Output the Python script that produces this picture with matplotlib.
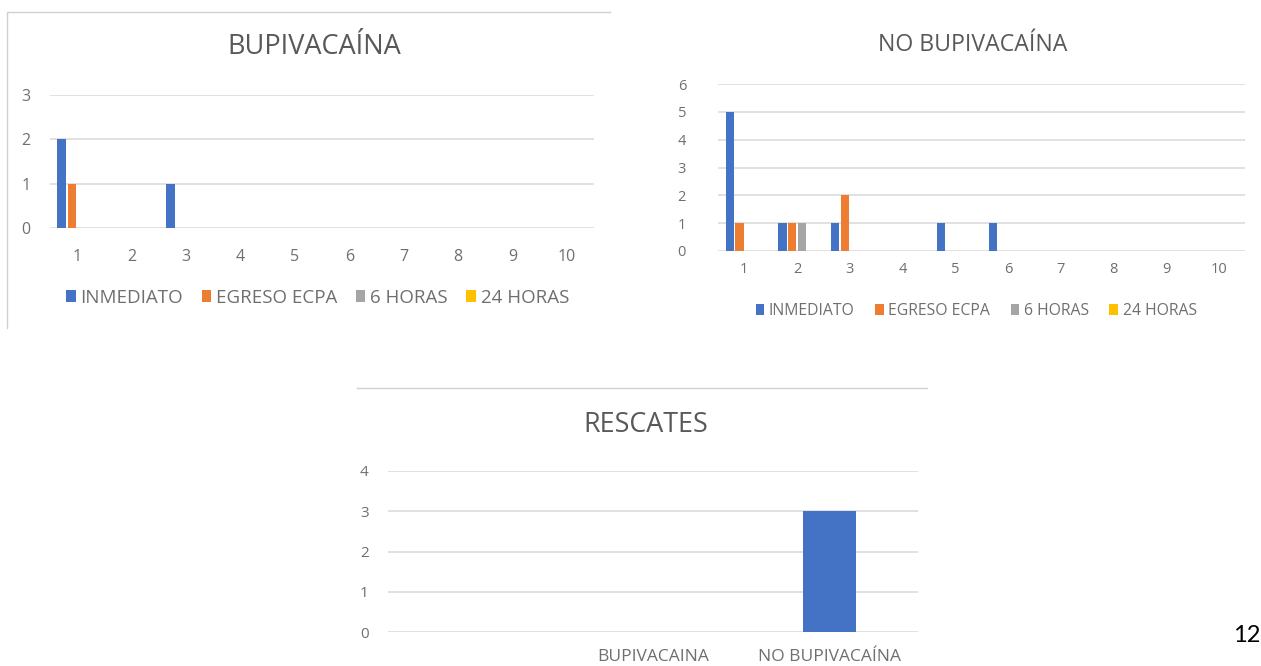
import numpy as np
import matplotlib.pyplot as plt
from matplotlib.lines import Line2D

# ---- data ----
categories = [1, 2, 3, 4, 5, 6, 7, 8, 9, 10]
series_names = ["INMEDIATO", "EGRESO ECPA", "6 HORAS", "24 HORAS"]

bupi_inmediato = [2, 0, 1, 0, 0, 0, 0, 0, 0, 0]
bupi_egreso = [1, 0, 0, 0, 0, 0, 0, 0, 0, 0]
bupi_6h = [0, 0, 0, 0, 0, 0, 0, 0, 0, 0]
bupi_24h = [0, 0, 0, 0, 0, 0, 0, 0, 0, 0]

no_bupi_inmediato = [5, 1, 1, 0, 1, 1, 0, 0, 0, 0]
no_bupi_egreso = [1, 1, 2, 0, 0, 0, 0, 0, 0, 0]
no_bupi_6h = [0, 1, 0, 0, 0, 0, 0, 0, 0, 0]
no_bupi_24h = [0, 0, 0, 0, 0, 0, 0, 0, 0, 0]

rescates_labels = ["", "BUPIVACAINA", "NO BUPIVACAÍNA"]
rescates_values = [0, 0, 3]

# office colours
colors = ["#4472C4", "#ED7D31", "#A5A5A5", "#FFC000"]
text_col = "#595959"
tick_col = "#6f6f6f"
grid_col = "#d9d9d9"

plt.rcParams['font.family'] = ['Open Sans', 'DejaVu Sans']

W, H = 1261, 666
fig = plt.figure(figsize=(W / 100, H / 100), dpi=100)


# helper: pixel box -> figure fraction box
def px_axes(x0, y_top, x1, y_bottom):
	return fig.add_axes([x0 / W, 1 - y_bottom / H, (x1 - x0) / W, (y_bottom - y_top) / H])


def style_axes(ax, ymax, ysize, xsize, ypad, xpad):
	ax.set_ylim(0, ymax)
	ax.set_yticks(range(0, ymax + 1))
	for s in ax.spines.values():
		s.set_visible(False)
	ax.yaxis.grid(True, color=grid_col, linewidth=1.1)
	ax.set_axisbelow(True)
	ax.tick_params(axis='y', length=0, labelsize=ysize, labelcolor=tick_col, pad=ypad)
	ax.tick_params(axis='x', length=0, labelsize=xsize, labelcolor=tick_col, pad=xpad)


def grouped_bars(ax, series, pitch, width):
	x = np.arange(len(categories))
	for i, vals in enumerate(series):
		offset = (i - 1.5) * pitch
		ax.bar(x + offset, vals, width, color=colors[i], linewidth=0, label=series_names[i])
	ax.set_xticks(x)
	ax.set_xticklabels([str(c) for c in categories])
	ax.set_xlim(-0.5, len(categories) - 0.5)


# ---- chart 1: BUPIVACAINA ----
ax1 = px_axes(50, 95, 594, 228)
grouped_bars(ax1, [bupi_inmediato, bupi_egreso, bupi_6h, bupi_24h], 0.19, 0.155)
style_axes(ax1, 3, 11.5, 11.5, 14, 15)
ax1.text(0.485, 1.36, "BUPIVACAÍNA", transform=ax1.transAxes, ha='center', va='center',
	fontsize=19.5, color=text_col)
leg1 = ax1.legend(loc='center', bbox_to_anchor=(0.492, -0.525), ncol=4, frameon=False,
	fontsize=13.5, handlelength=0.5, handleheight=0.65, handletextpad=0.25, columnspacing=1.0)
for t in leg1.get_texts():
	t.set_color(tick_col)

# ---- chart 2: NO BUPIVACAINA ----
ax2 = px_axes(718, 84, 1245, 251)
grouped_bars(ax2, [no_bupi_inmediato, no_bupi_egreso, no_bupi_6h, no_bupi_24h], 0.184, 0.152)
style_axes(ax2, 6, 10.5, 10.5, 23, 8)
ax2.text(0.484, 1.234, "NO BUPIVACAÍNA", transform=ax2.transAxes, ha='center', va='center',
	fontsize=16.7, color=text_col)
leg2 = ax2.legend(loc='center', bbox_to_anchor=(0.49, -0.36), ncol=4, frameon=False,
	fontsize=11.3, handlelength=0.55, handleheight=0.65, handletextpad=0.3, columnspacing=1.3)
for t in leg2.get_texts():
	t.set_color(tick_col)

# ---- chart 3: RESCATES ----
ax3 = px_axes(388, 471, 918, 632)
xr = np.arange(len(rescates_labels))
ax3.bar(xr, rescates_values, 0.3, color=colors[0], linewidth=0)
ax3.set_xticks(xr)
ax3.set_xticklabels(rescates_labels)
ax3.set_xlim(-0.5, len(rescates_labels) - 0.5)
style_axes(ax3, 4, 11, 12.5, 14, 12)
ax3.text(0.487, 1.286, "RESCATES", transform=ax3.transAxes, ha='center', va='center',
	fontsize=19.4, color=text_col)

# chart frames (light border lines from the pasted images)
fig.add_artist(Line2D([7 / W, 7 / W, 610 / W], [1 - 328 / H, 1 - 12 / H, 1 - 12 / H],
	transform=fig.transFigure, color="#d0d0d0", linewidth=1))
fig.add_artist(Line2D([357 / W, 927 / W], [1 - 388 / H, 1 - 388 / H],
	transform=fig.transFigure, color="#d0d0d0", linewidth=1))

# slide number
fig.text(1260 / W, 1 - 636 / H, "12", ha='right', va='center', fontsize=17, color='black',
	family=['Lato', 'DejaVu Sans'])

fig.savefig("out.png", dpi=100, facecolor='white')
